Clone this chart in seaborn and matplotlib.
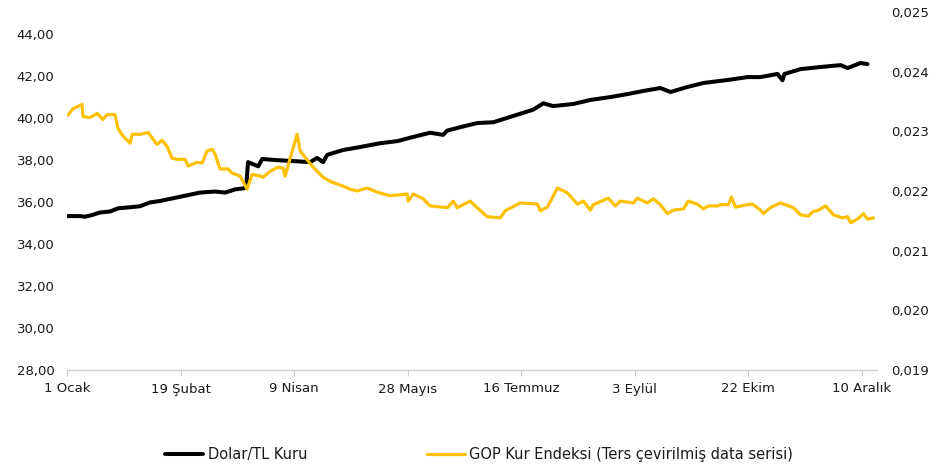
import numpy as np
import pandas as pd
import matplotlib
matplotlib.use("Agg")
import matplotlib.pyplot as plt
from matplotlib.lines import Line2D
from matplotlib.ticker import FuncFormatter
import seaborn as sns

# ---- data (days since 1 Jan 2025) ----
usd_days = [0, 5.6, 7.8, 10.8, 14.2, 18.6, 22, 27.2, 31.5, 35.8, 40.2, 44.5, 48.8, 53.1, 57.4,
            63.9, 68.2, 72.5, 77.3, 78.1, 82.5, 84.2, 89.8, 97.6, 104.9, 107.9, 110.5, 112.3,
            119.2, 126.5, 135.1, 142.5, 149.4, 156.7, 162.3, 164, 171, 177, 184, 192.6, 201.2,
            205.5, 209.8, 218.5, 225.8, 234.5, 241.8, 248.7, 256, 260.4, 267.7, 274.6, 285,
            293.6, 299.2, 306.6, 308.7, 309.6, 316.5, 325.1, 333.8, 336.8, 342.4, 345.4]
usd_values = [35.33, 35.33, 35.30, 35.38, 35.50, 35.55, 35.70, 35.75, 35.80, 35.98, 36.05, 36.15,
              36.25, 36.35, 36.45, 36.50, 36.45, 36.60, 36.67, 37.90, 37.70, 38.05, 38.00, 37.95,
              37.90, 38.10, 37.90, 38.25, 38.48, 38.62, 38.80, 38.90, 39.10, 39.30, 39.20, 39.40,
              39.60, 39.76, 39.80, 40.10, 40.40, 40.70, 40.57, 40.67, 40.86, 41.00, 41.14, 41.29,
              41.43, 41.24, 41.48, 41.67, 41.81, 41.95, 41.95, 42.10, 41.80, 42.10, 42.33, 42.43,
              42.52, 42.38, 42.62, 42.57]

gop_days = [0.4, 2.6, 6.5, 6.9, 9.9, 13, 15.5, 17.3, 20.7, 22, 24.2, 27.2, 28.1, 31.5, 35, 38.9,
            41, 43.2, 45.3, 47.9, 51, 52.2, 56.1, 58.3, 60.4, 62.6, 63.9, 66, 69.5, 71.2, 74.7,
            77.7, 79.9, 83.3, 84.6, 87.7, 91.1, 93.3, 94.1, 97.2, 99.3, 100.6, 104.1, 106.2,
            110.5, 113.6, 119.2, 122.2, 125.2, 129.5, 133.9, 139.5, 146.8, 147.2, 149.4, 153.7,
            156.7, 164.1, 166.7, 168.4, 174, 177, 181.3, 187, 189.1, 195.6, 203, 204.2, 207.3,
            211.6, 215.9, 220.2, 222.8, 225.8, 227.1, 233.6, 236.6, 238.8, 244.4, 246.1, 250.4,
            253, 256, 259.1, 261.7, 266, 268.1, 272, 274.6, 276.8, 280.7, 282, 285.4, 286.7,
            288.4, 293.6, 295.8, 299.2, 300.5, 303.5, 307.8, 313.5, 316.5, 320, 321.7, 324.3,
            327.3, 330.7, 334.6, 336.8, 338.1, 341.1, 343.7, 345.4, 348]
gop_values = [0.02327, 0.02338, 0.02345, 0.02325, 0.02323, 0.02330, 0.02320, 0.02328, 0.02328,
              0.02305, 0.02292, 0.02280, 0.02295, 0.02295, 0.02298, 0.02278, 0.02285, 0.02275,
              0.02255, 0.02253, 0.02253, 0.02242, 0.02248, 0.02247, 0.02267, 0.02270, 0.02262,
              0.02237, 0.02237, 0.02230, 0.02225, 0.02203, 0.02228, 0.02225, 0.02223, 0.02233,
              0.02240, 0.02238, 0.02225, 0.02267, 0.02295, 0.02267, 0.02250, 0.02240, 0.02223,
              0.02216, 0.02208, 0.02203, 0.02200, 0.02205, 0.02198, 0.02192, 0.02195, 0.02183,
              0.02195, 0.02187, 0.02175, 0.02172, 0.02183, 0.02172, 0.02183, 0.02172, 0.02157,
              0.02155, 0.02167, 0.02180, 0.02178, 0.02167, 0.02173, 0.02205, 0.02197, 0.02178,
              0.02183, 0.02168, 0.02177, 0.02188, 0.02175, 0.02183, 0.02180, 0.02188, 0.02180,
              0.02187, 0.02177, 0.02162, 0.02168, 0.02170, 0.02183, 0.02178, 0.02170, 0.02175,
              0.02175, 0.02177, 0.02177, 0.02190, 0.02173, 0.02177, 0.02178, 0.02168, 0.02162,
              0.02172, 0.02180, 0.02172, 0.02160, 0.02158, 0.02165, 0.02168, 0.02175, 0.02160,
              0.02155, 0.02157, 0.02147, 0.02153, 0.02162, 0.02153, 0.02155]

tick_days = [0, 49, 98, 147, 196, 245, 294, 343]
tick_labels = ["1 Ocak", "19 Şubat", "9 Nisan", "28 Mayıs", "16 Temmuz", "3 Eylül", "22 Ekim", "10 Aralık"]
left_ticks = [28, 30, 32, 34, 36, 38, 40, 42, 44]
right_ticks = [0.019, 0.020, 0.021, 0.022, 0.023, 0.024, 0.025]
series_names = ["Dolar/TL Kuru", "GOP Kur Endeksi (Ters çevirilmiş data serisi)"]

# ---- style ----
sns.set_theme(style="white")
plt.rcParams["font.family"] = ["DejaVu Sans"]
text_color = "#1a1a1a"
black = "#000000"
gold = "#FFC000"

fig = plt.figure(figsize=(9.45, 4.68), dpi=100)
ax = fig.add_axes([67 / 945, 1 - 370 / 468, (877 - 67) / 945, (370 - 12) / 468])
ax2 = ax.twinx()

usd_df = pd.DataFrame({"day": usd_days, "value": usd_values})
gop_df = pd.DataFrame({"day": gop_days, "value": gop_values})

sns.lineplot(data=usd_df, x="day", y="value", ax=ax, color=black, linewidth=2.9, legend=False)
sns.lineplot(data=gop_df, x="day", y="value", ax=ax2, color=gold, linewidth=2.3, legend=False)

ax.set_xlim(0, 349.5)
ax.set_ylim(28, 45.05)
ax2.set_ylim(0.019, 0.025)

ax.set_xticks(tick_days)
ax.set_xticklabels(tick_labels)
ax.set_yticks(left_ticks)
ax2.set_yticks(right_ticks)
ax.yaxis.set_major_formatter(FuncFormatter(lambda v, p: f"{v:.2f}".replace(".", ",")))
ax2.yaxis.set_major_formatter(FuncFormatter(lambda v, p: f"{v:.3f}".replace(".", ",")))

for a in (ax, ax2):
    a.set_xlabel("")
    a.set_ylabel("")
    for s in a.spines.values():
        s.set_visible(False)
    a.grid(False)
ax.spines["bottom"].set_visible(True)
ax.spines["bottom"].set_color("#d0d0d0")
ax.spines["bottom"].set_linewidth(1.0)

ax.tick_params(axis="x", length=4, width=0.8, color="#c8c8c8", direction="out",
               labelsize=9.5, labelcolor=text_color, pad=5, bottom=True)
ax.tick_params(axis="y", length=0, labelsize=9.5, labelcolor=text_color, pad=9, left=True)
ax2.tick_params(axis="y", length=0, labelsize=9.5, labelcolor=text_color, pad=10, right=True)

handles = [Line2D([], [], color=black, linewidth=2.9),
           Line2D([], [], color=gold, linewidth=2.3)]
fig.legend(handles, series_names, loc="center", bbox_to_anchor=(479 / 945, 1 - 455 / 468),
           ncol=2, frameon=False, fontsize=10.5, handlelength=2.6, handletextpad=0.3,
           columnspacing=8.2, labelcolor=text_color)

fig.savefig("out.png", dpi=100)
